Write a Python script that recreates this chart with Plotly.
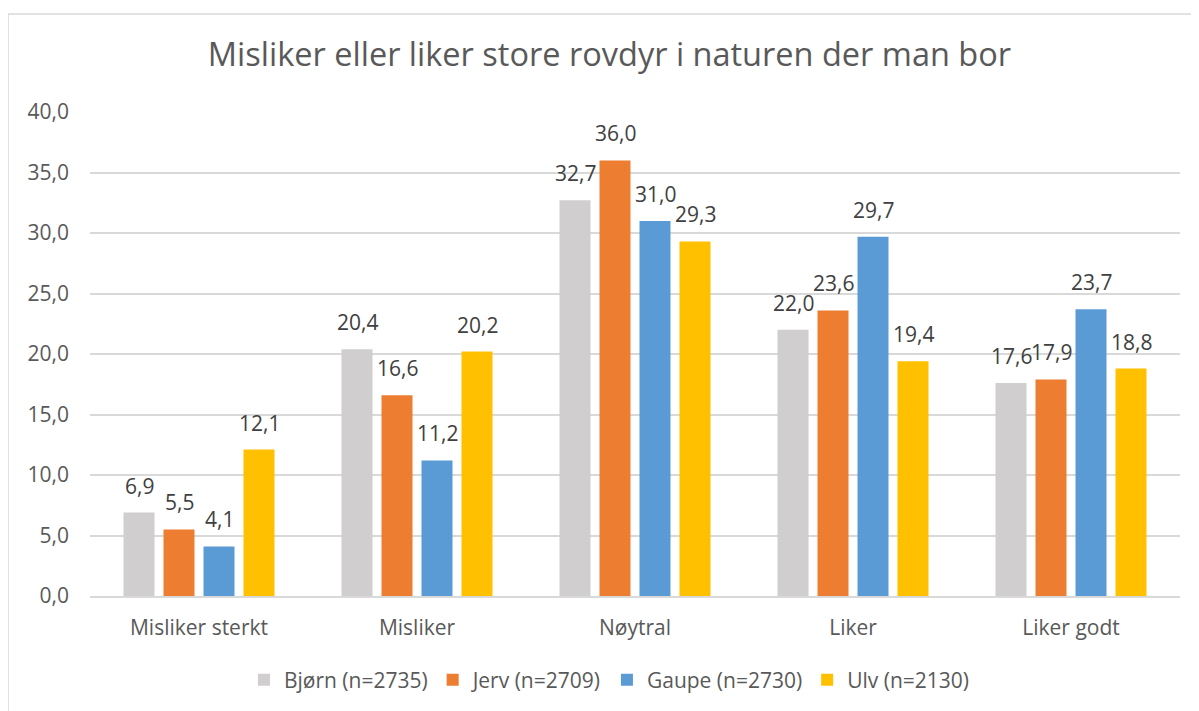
import plotly.graph_objects as go

categories = ["Misliker sterkt", "Misliker", "Nøytral", "Liker", "Liker godt"]
series_names = ["Bjørn (n=2735)", "Jerv (n=2709)", "Gaupe (n=2730)", "Ulv (n=2130)"]
bjorn = [6.9, 20.4, 32.7, 22.0, 17.6]
jerv = [5.5, 16.6, 36.0, 23.6, 17.9]
gaupe = [4.1, 11.2, 31.0, 29.7, 23.7]
ulv = [12.1, 20.2, 29.3, 19.4, 18.8]
colors = ["#D0CECE", "#ED7D31", "#5B9BD5", "#FFC000"]
y_ticks = [0, 5, 10, 15, 20, 25, 30, 35, 40]

FONT = "Open Sans"
TS = 21
all_values = [bjorn, jerv, gaupe, ulv]

fig = go.Figure()
for name, vals, col in zip(series_names, all_values, colors):
    fig.add_trace(go.Bar(
        name=name, x=categories, y=vals, marker_color=col,
        marker_line_width=0,
    ))

for i, vals in enumerate(all_values):
    for c, v in zip(categories, vals):
        fig.add_annotation(
            x=c, y=v, text=f"{v:.1f}".replace(".", ","),
            showarrow=False, yanchor="bottom", xanchor="center",
            xshift=(i - 1.5) * 40, yshift=11,
            font=dict(family=FONT, size=TS, color="#404040"),
        )

fig.add_shape(type="rect", xref="paper", yref="paper",
              x0=-0.0752, x1=1.05, y0=-0.3, y1=1.2025,
              line=dict(color="#D9D9D9", width=1.5), fillcolor="rgba(0,0,0,0)",
              layer="below")

fig.update_layout(
    width=1191, height=703,
    margin=dict(l=82, r=19, t=104, b=115),
    paper_bgcolor="white", plot_bgcolor="white",
    title=dict(text="Misliker eller liker store rovdyr i naturen der man bor",
               x=0.505, xref="container", xanchor="center", y=0.933, yanchor="middle",
               font=dict(family=FONT, size=32.5, color="#595959")),
    barmode="group", bargap=0.266, bargroupgap=0.225,
    font=dict(family=FONT, size=TS, color="#595959"),
    legend=dict(orientation="h", x=0.505, xref="container", xanchor="center",
                y=0.044, yref="container", yanchor="middle",
                font=dict(family=FONT, size=TS, color="#595959"),
                itemwidth=30, traceorder="normal"),
    xaxis=dict(showline=True, linecolor="#D9D9D9", linewidth=1.5,
               tickfont=dict(family=FONT, size=TS, color="#595959"), ticks="",
               ticklabelstandoff=12),
    yaxis=dict(range=[0, 40], tickvals=y_ticks,
               ticktext=[f"{t:.1f}".replace(".", ",") for t in y_ticks],
               showgrid=True, gridcolor="#D9D9D9", gridwidth=1.5, zeroline=False,
               tickfont=dict(family=FONT, size=TS, color="#595959"), ticks="",
               ticklabelstandoff=20),
)

fig.write_html("out.html")
